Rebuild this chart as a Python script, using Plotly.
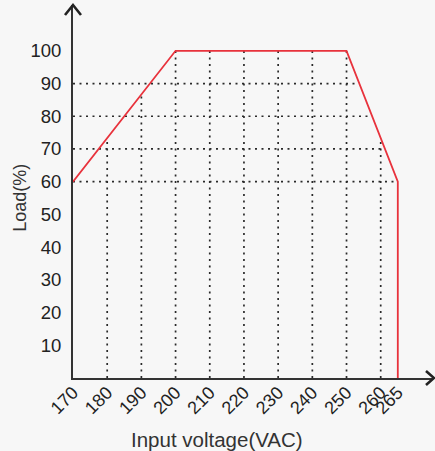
import numpy as np
import plotly.graph_objects as go

# ---- data ----
curve_x = [170, 200, 250, 265, 265]
curve_y = [60, 100, 100, 60, 0]
grid_x = [180, 190, 200, 210, 220, 230, 240, 250, 260]
grid_y = [60, 70, 80, 90]
x_ticks = [170, 180, 190, 200, 210, 220, 230, 240, 250, 260, 265]
y_ticks = [10, 20, 30, 40, 50, 60, 70, 80, 90, 100]
x_title = "Input voltage(VAC)"
y_title = "Load(%)"

BG = "#f7f7f7"
INK = "#222222"
RED = "#e8323c"

# dotted guide lines bounded by the curve
cx = np.array(curve_x[:4], dtype=float)
cy = np.array(curve_y[:4], dtype=float)
gx, gy = [], []
for v in grid_x:
    top = float(np.interp(v, cx, cy))
    gx += [v, v, None]
    gy += [0, top, None]
for v in grid_y:
    right = float(np.interp(v, [curve_y[3], curve_y[2]], [curve_x[3], curve_x[2]]))
    gx += [curve_x[0], right, None]
    gy += [v, v, None]

fig = go.Figure()
fig.add_trace(go.Scatter(x=gx, y=gy, mode="lines", hoverinfo="skip",
                         line=dict(color="#2a2a2a", width=1.7, dash="2px,4.5px"),
                         showlegend=False, cliponaxis=False))
fig.add_trace(go.Scatter(x=curve_x, y=curve_y, mode="lines",
                         line=dict(color=RED, width=1.8),
                         showlegend=False, cliponaxis=False))

fig.update_layout(
    width=435, height=451,
    margin=dict(l=73, r=3, t=5, b=73, autoexpand=False),
    paper_bgcolor=BG, plot_bgcolor=BG,
    font=dict(family="Liberation Sans, Arial, sans-serif", color=INK),
    xaxis=dict(range=[170, 275], showgrid=False, zeroline=False, automargin=False,
               showline=True, linecolor="#333333", linewidth=2,
               tickvals=x_ticks, ticktext=[str(t) for t in x_ticks],
               tickangle=-45, ticks="", ticklabelstandoff=-5,
               tickfont=dict(size=18, color=INK)),
    yaxis=dict(range=[0, 114], showgrid=False, zeroline=False, automargin=False,
               showline=True, linecolor="#333333", linewidth=2,
               tickvals=y_ticks, ticktext=[str(t) for t in y_ticks],
               ticks="", ticklabelstandoff=6, tickfont=dict(size=18.5, color=INK)),
    annotations=[
        dict(text=x_title, xref="paper", yref="paper", x=0.40, y=0,
             yshift=-61, showarrow=False, xanchor="center", yanchor="middle",
             font=dict(size=20.5, color="#333333")),
        dict(text=y_title, xref="paper", yref="paper", x=0, y=0.483,
             xshift=-53, showarrow=False, textangle=-90,
             xanchor="center", yanchor="middle",
             font=dict(size=18, color="#333333")),
    ],
    shapes=[
        dict(type="path", xref="paper", yref="paper",
             xsizemode="pixel", ysizemode="pixel", xanchor=0, yanchor=1,
             path="M -8,-10 L 0,0 L 8,-10",
             line=dict(color=INK, width=2.6)),
        dict(type="path", xref="paper", yref="paper",
             xsizemode="pixel", ysizemode="pixel", xanchor=1, yanchor=0,
             path="M -6,7 L 2,0 L -6,-7",
             line=dict(color=INK, width=2.6)),
    ],
)

fig.write_html("out.html", config={"displayModeBar": False},
               post_script="document.body.style.margin='0';")
